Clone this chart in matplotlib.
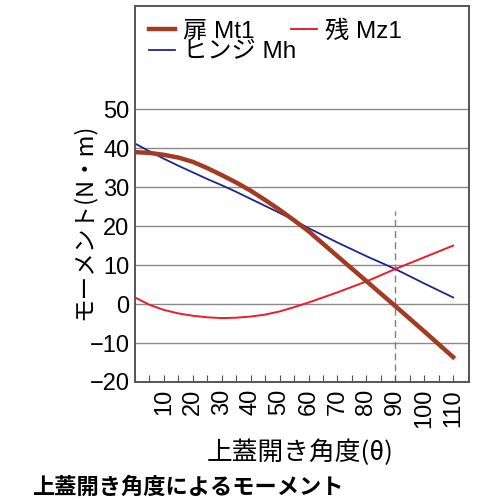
import numpy as np
import matplotlib
matplotlib.use("Agg")
import matplotlib.pyplot as plt
from matplotlib.ticker import MultipleLocator

plt.rcParams['font.family'] = ['Liberation Sans', 'Noto Sans CJK JP', 'DejaVu Sans']

# ── Data ──────────────────────────────────────────
angle = [0, 5, 10, 15, 20, 25, 30, 35, 40, 45, 50, 55, 60, 70, 80, 90, 100, 110]
mt1 = [39.0, 38.8, 38.3, 37.6, 36.5, 34.9, 33.1, 31.2, 29.1, 26.7, 24.2, 21.5, 18.7,
       12.3, 5.9, -0.5, -7.0, -13.6]
mz1 = [1.7, -0.2, -1.5, -2.4, -3.0, -3.4, -3.6, -3.5, -3.2, -2.7, -1.9, -0.8, 0.4,
       3.0, 5.8, 9.0, 12.0, 15.0]
mh = [41.2, 39.2, 37.3, 35.5, 33.8, 32.1, 30.5, 28.8, 27.0, 25.2, 23.4, 21.5, 19.5,
      15.8, 12.3, 9.0, 5.3, 1.7]

x_ticks = [10, 20, 30, 40, 50, 60, 70, 80, 90, 100, 110]
y_ticks = [-20, -10, 0, 10, 20, 30, 40, 50]
marker_angle = 90

fig = plt.figure(figsize=(5, 5), dpi=100)
ax = fig.add_axes([0.27, 0.236, 0.668, 0.752])

for y in y_ticks[1:]:
    ax.axhline(y, color='#8a8a8a', lw=1.0, zorder=1)
ax.plot([marker_angle, marker_angle], [-20, 24], color='#808080', lw=1.0,
        ls=(0, (5, 3)), zorder=1)

l_mt1, = ax.plot(angle, mt1, color='#a33a22', lw=3.2, label='扉 Mt1', zorder=3)
l_mh, = ax.plot(angle, mh, color='#1c2596', lw=1.3, label='ヒンジ Mh', zorder=2)
l_mz1, = ax.plot(angle, mz1, color='#ee1c25', lw=1.4, label='残 Mz1', zorder=2)

ax.set_xlim(0, 115.5)
ax.set_ylim(-20, 76.5)
ax.set_xticks(x_ticks)
ax.set_xticklabels([str(v) for v in x_ticks], rotation=90, fontsize=17)
ax.xaxis.set_minor_locator(MultipleLocator(5))
ax.tick_params(axis='x', which='both', direction='in', length=5, width=0.8,
               color='#555555', pad=5)
ax.set_yticks(y_ticks)
ax.set_yticklabels([str(v).replace('-', '\u2212') for v in y_ticks], fontsize=17)
ax.tick_params(axis='y', length=0, pad=4)

for s in ax.spines.values():
    s.set_color('#555555')
    s.set_linewidth(1.4)

# legend: first row has two entries, second row one (rows overlap in width)
leg_kw = dict(frameon=False, fontsize=17.5, handlelength=1.07, handletextpad=0.33,
              borderpad=0, borderaxespad=0, loc='center left')
leg1 = ax.legend([l_mt1, l_mz1], ['扉 Mt1', '残 Mz1'], ncol=2, columnspacing=1.5,
                 bbox_to_anchor=(0.042, 0.932), **leg_kw)
ax.add_artist(leg1)
ax.legend([l_mh], ['ヒンジ Mh'], bbox_to_anchor=(0.042, 0.876), **leg_kw)

fig.text(0.168, 0.556, 'モーメント(N・m)', rotation=90, ha='center', va='center',
         fontsize=17, family=['Noto Sans CJK JP'])
fig.text(0.60, 0.094, '上蓋開き角度(θ)', ha='center', va='center', fontsize=18.5,
         family=['Noto Sans CJK JP'])
fig.text(0.064, 0.026, '上蓋開き角度によるモーメント', ha='left', va='center',
         fontsize=16, fontweight='bold', family=['Noto Sans CJK JP'])

fig.savefig('out.png', dpi=100)
